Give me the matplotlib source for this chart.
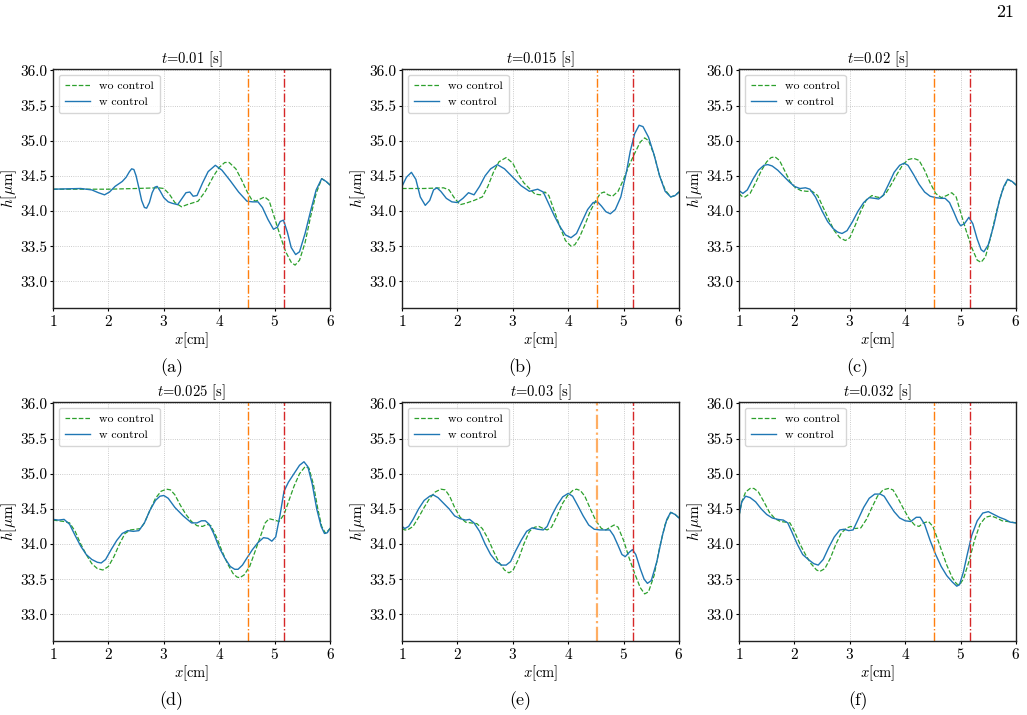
import numpy as np
import matplotlib
matplotlib.use("Agg")
import matplotlib.pyplot as plt

plt.rcParams["font.family"] = ["cmr10", "DejaVu Serif"]
plt.rcParams["mathtext.fontset"] = "cm"
plt.rcParams["axes.formatter.use_mathtext"] = True

# film thickness h [um] along x [cm]
times = ["0.01", "0.015", "0.02", "0.025", "0.03", "0.032"]
captions = ["(a)", "(b)", "(c)", "(d)", "(e)", "(f)"]

a_wo_x = [1.0, 1.5, 2.0, 2.5, 2.9, 3.0, 3.1, 3.2, 3.32, 3.42, 3.5, 3.62, 3.75, 3.9, 4.0, 4.1, 4.18, 4.3, 4.4, 4.5,
          4.58, 4.66, 4.74, 4.82, 4.9, 5.0, 5.1, 5.2, 5.3, 5.37, 5.45, 5.55, 5.65, 5.75, 5.85, 5.93, 6.0]
a_wo_h = [34.31, 34.31, 34.31, 34.32, 34.33, 34.32, 34.24, 34.12, 34.06, 34.09, 34.11, 34.14, 34.28, 34.50, 34.62,
          34.69, 34.69, 34.60, 34.45, 34.28, 34.17, 34.14, 34.17, 34.20, 34.15, 33.90, 33.65, 33.42, 33.27, 33.23,
          33.30, 33.55, 33.92, 34.25, 34.46, 34.42, 34.37]
a_w_x = [1.0, 1.5, 1.7, 1.82, 1.93, 2.02, 2.12, 2.25, 2.32, 2.38, 2.42, 2.46, 2.5, 2.55, 2.6, 2.65, 2.69, 2.74, 2.79,
         2.84, 2.88, 2.93, 3.0, 3.08, 3.15, 3.25, 3.33, 3.4, 3.47, 3.53, 3.6, 3.7, 3.8, 3.93, 4.05, 4.2, 4.35, 4.5,
         4.6, 4.7, 4.78, 4.88, 4.98, 5.05, 5.1, 5.16, 5.23, 5.3, 5.38, 5.45, 5.55, 5.65, 5.75, 5.85, 5.93, 6.0]
a_w_h = [34.31, 34.32, 34.30, 34.26, 34.23, 34.27, 34.35, 34.42, 34.48, 34.56, 34.60, 34.59, 34.50, 34.33, 34.15,
         34.05, 34.04, 34.12, 34.26, 34.34, 34.35, 34.29, 34.19, 34.13, 34.11, 34.09, 34.18, 34.26, 34.27, 34.21,
         34.22, 34.40, 34.56, 34.65, 34.58, 34.43, 34.27, 34.14, 34.13, 34.13, 34.05, 33.88, 33.74, 33.77, 33.85,
         33.87, 33.70, 33.48, 33.38, 33.42, 33.68, 34.00, 34.30, 34.46, 34.42, 34.37]

b_wo_x = [1.0, 1.4, 1.75, 1.85, 1.95, 2.05, 2.15, 2.3, 2.45, 2.55, 2.65, 2.75, 2.88, 3.0, 3.1, 3.2, 3.3, 3.4, 3.5,
          3.58, 3.65, 3.75, 3.85, 3.95, 4.05, 4.12, 4.2, 4.3, 4.4, 4.5, 4.58, 4.65, 4.72, 4.8, 4.9, 5.0, 5.1, 5.2,
          5.3, 5.38, 5.45, 5.55, 5.65, 5.75, 5.85, 5.93, 6.0]
b_wo_h = [34.32, 34.32, 34.33, 34.30, 34.18, 34.09, 34.11, 34.15, 34.20, 34.35, 34.55, 34.70, 34.76, 34.68, 34.52,
          34.40, 34.32, 34.24, 34.23, 34.27, 34.22, 34.00, 33.78, 33.58, 33.50, 33.52, 33.62, 33.80, 34.00, 34.15,
          34.25, 34.27, 34.23, 34.21, 34.28, 34.45, 34.65, 34.82, 34.98, 35.04, 35.00, 34.80, 34.50, 34.30, 34.20,
          34.22, 34.27]
b_w_x = [1.0, 1.08, 1.17, 1.25, 1.33, 1.42, 1.5, 1.57, 1.63, 1.7, 1.8, 1.9, 2.0, 2.1, 2.2, 2.3, 2.4, 2.5, 2.6, 2.72,
         2.85, 3.0, 3.15, 3.3, 3.45, 3.55, 3.65, 3.75, 3.85, 3.95, 4.05, 4.15, 4.25, 4.35, 4.45, 4.53, 4.6, 4.68,
         4.76, 4.85, 4.95, 5.05, 5.12, 5.2, 5.28, 5.35, 5.45, 5.55, 5.65, 5.75, 5.85, 5.93, 6.0]
b_w_h = [34.35, 34.48, 34.55, 34.45, 34.20, 34.08, 34.15, 34.30, 34.33, 34.28, 34.18, 34.13, 34.12, 34.18, 34.26,
         34.23, 34.35, 34.50, 34.60, 34.66, 34.60, 34.48, 34.36, 34.28, 34.31, 34.27, 34.10, 33.93, 33.78, 33.66,
         33.62, 33.68, 33.85, 34.02, 34.12, 34.13, 34.07, 33.99, 33.96, 34.02, 34.20, 34.55, 34.85, 35.10, 35.22,
         35.20, 35.05, 34.80, 34.50, 34.28, 34.20, 34.22, 34.27]

c_wo_x = [1.0, 1.05, 1.11, 1.2, 1.3, 1.4, 1.5, 1.58, 1.65, 1.73, 1.82, 1.92, 2.02, 2.12, 2.22, 2.32, 2.42, 2.52, 2.62,
          2.72, 2.82, 2.92, 3.0, 3.1, 3.2, 3.3, 3.4, 3.48, 3.55, 3.65, 3.75, 3.85, 3.95, 4.05, 4.15, 4.25, 4.35,
          4.45, 4.55, 4.65, 4.75, 4.84, 4.92, 5.0, 5.1, 5.2, 5.3, 5.37, 5.45, 5.55, 5.65, 5.75, 5.85, 5.93, 6.0]
c_wo_h = [34.25, 34.21, 34.20, 34.25, 34.40, 34.57, 34.70, 34.76, 34.77, 34.72, 34.58, 34.42, 34.33, 34.29, 34.28,
          34.28, 34.22, 34.05, 33.88, 33.72, 33.62, 33.58, 33.62, 33.80, 34.00, 34.16, 34.22, 34.20, 34.19, 34.25,
          34.38, 34.52, 34.65, 34.73, 34.75, 34.72, 34.58, 34.40, 34.25, 34.19, 34.22, 34.26, 34.20, 33.98, 33.72,
          33.48, 33.30, 33.27, 33.35, 33.65, 34.00, 34.28, 34.45, 34.42, 34.37]
c_w_x = [1.0, 1.07, 1.15, 1.25, 1.35, 1.45, 1.52, 1.6, 1.7, 1.8, 1.9, 2.0, 2.1, 2.2, 2.28, 2.38, 2.5, 2.6, 2.7, 2.78,
         2.86, 2.95, 3.05, 3.15, 3.25, 3.35, 3.45, 3.52, 3.6, 3.7, 3.8, 3.9, 3.98, 4.05, 4.15, 4.25, 4.35, 4.45,
         4.55, 4.65, 4.72, 4.8, 4.88, 4.95, 5.0, 5.07, 5.15, 5.22, 5.3, 5.37, 5.42, 5.5, 5.6, 5.7, 5.78, 5.85, 5.93,
         6.0]
c_w_h = [34.29, 34.25, 34.30, 34.45, 34.58, 34.65, 34.66, 34.64, 34.58, 34.50, 34.42, 34.35, 34.32, 34.33, 34.31,
         34.20, 34.00, 33.85, 33.75, 33.70, 33.68, 33.72, 33.85, 34.00, 34.12, 34.19, 34.18, 34.17, 34.22, 34.38,
         34.55, 34.65, 34.68, 34.65, 34.52, 34.38, 34.27, 34.21, 34.19, 34.18, 34.18, 34.12, 33.98, 33.85, 33.79,
         33.82, 33.91, 33.82, 33.60, 33.45, 33.42, 33.52, 33.80, 34.15, 34.35, 34.45, 34.42, 34.37]

d_wo_x = [1.0, 1.1, 1.2, 1.3, 1.4, 1.5, 1.6, 1.7, 1.8, 1.9, 2.0, 2.1, 2.2, 2.3, 2.4, 2.5, 2.58, 2.65, 2.75, 2.85,
          2.95, 3.05, 3.12, 3.2, 3.3, 3.4, 3.5, 3.6, 3.7, 3.78, 3.85, 3.95, 4.05, 4.15, 4.25, 4.32, 4.37, 4.45, 4.55,
          4.65, 4.75, 4.83, 4.9, 5.0, 5.08, 5.17, 5.25, 5.35, 5.45, 5.55, 5.62, 5.7, 5.78, 5.85, 5.92, 6.0]
d_wo_h = [34.34, 34.33, 34.32, 34.30, 34.18, 34.00, 33.85, 33.72, 33.65, 33.63, 33.68, 33.82, 34.00, 34.15, 34.20,
          34.21, 34.22, 34.30, 34.48, 34.65, 34.75, 34.78, 34.77, 34.70, 34.55, 34.42, 34.32, 34.26, 34.25, 34.28,
          34.26, 34.10, 33.90, 33.72, 33.58, 33.53, 33.52, 33.56, 33.68, 33.90, 34.12, 34.30, 34.36, 34.34, 34.32,
          34.42, 34.60, 34.82, 35.00, 35.10, 35.08, 34.85, 34.50, 34.25, 34.15, 34.22]
d_w_x = [1.0, 1.1, 1.2, 1.3, 1.4, 1.5, 1.6, 1.7, 1.8, 1.87, 1.95, 2.05, 2.15, 2.25, 2.35, 2.45, 2.55, 2.65, 2.75, 2.85,
         2.93, 3.0, 3.08, 3.2, 3.35, 3.5, 3.6, 3.68, 3.75, 3.82, 3.9, 4.0, 4.1, 4.2, 4.28, 4.34, 4.42, 4.5, 4.6, 4.7,
         4.8, 4.88, 4.95, 5.02, 5.1, 5.17, 5.25, 5.35, 5.45, 5.53, 5.6, 5.68, 5.76, 5.84, 5.9, 5.95, 6.0]
d_w_h = [34.35, 34.34, 34.35, 34.28, 34.12, 33.97, 33.85, 33.78, 33.74, 33.73, 33.78, 33.92, 34.05, 34.15, 34.19,
         34.18, 34.19, 34.30, 34.48, 34.62, 34.68, 34.69, 34.65, 34.52, 34.40, 34.30, 34.30, 34.33, 34.33, 34.28,
         34.15, 33.95, 33.80, 33.68, 33.64, 33.64, 33.70, 33.80, 33.92, 34.02, 34.09, 34.08, 34.04, 34.10, 34.42,
         34.75, 34.88, 35.00, 35.12, 35.17, 35.10, 34.85, 34.50, 34.25, 34.15, 34.16, 34.22]

e_wo_x = [1.0, 1.05, 1.1, 1.2, 1.3, 1.4, 1.5, 1.6, 1.7, 1.78, 1.86, 1.95, 2.05, 2.15, 2.25, 2.35, 2.45, 2.55, 2.65,
          2.75, 2.85, 2.93, 3.0, 3.1, 3.2, 3.3, 3.4, 3.47, 3.55, 3.62, 3.7, 3.8, 3.9, 4.0, 4.08, 4.15, 4.22, 4.3, 4.4,
          4.5, 4.6, 4.68, 4.76, 4.83, 4.9, 5.0, 5.1, 5.2, 5.3, 5.38, 5.45, 5.55, 5.65, 5.75, 5.85, 5.93, 6.0]
e_wo_h = [34.22, 34.20, 34.20, 34.25, 34.38, 34.52, 34.65, 34.74, 34.78, 34.77, 34.68, 34.52, 34.38, 34.31, 34.30,
          34.29, 34.22, 34.08, 33.90, 33.74, 33.63, 33.59, 33.62, 33.78, 34.00, 34.18, 34.24, 34.25, 34.22, 34.20,
          34.24, 34.40, 34.58, 34.70, 34.76, 34.78, 34.76, 34.68, 34.50, 34.33, 34.22, 34.20, 34.24, 34.27, 34.24,
          34.05, 33.80, 33.58, 33.38, 33.29, 33.32, 33.55, 33.95, 34.28, 34.45, 34.42, 34.37]
e_w_x = [1.0, 1.05, 1.12, 1.2, 1.3, 1.4, 1.5, 1.56, 1.65, 1.75, 1.85, 1.95, 2.05, 2.15, 2.22, 2.3, 2.4, 2.5, 2.6, 2.7,
         2.8, 2.88, 2.96, 3.05, 3.15, 3.25, 3.35, 3.45, 3.55, 3.62, 3.7, 3.8, 3.9, 4.0, 4.08, 4.17, 4.27, 4.37, 4.47,
         4.57, 4.67, 4.75, 4.82, 4.9, 4.97, 5.03, 5.1, 5.16, 5.22, 5.3, 5.37, 5.43, 5.5, 5.6, 5.7, 5.78, 5.85, 5.93,
         6.0]
e_w_h = [34.25, 34.22, 34.25, 34.35, 34.50, 34.62, 34.68, 34.70, 34.66, 34.58, 34.50, 34.40, 34.36, 34.34, 34.35,
         34.30, 34.18, 34.00, 33.85, 33.75, 33.70, 33.70, 33.75, 33.90, 34.05, 34.18, 34.23, 34.21, 34.20, 34.25,
         34.40, 34.55, 34.67, 34.72, 34.68, 34.55, 34.40, 34.27, 34.21, 34.20, 34.20, 34.20, 34.12, 33.98, 33.85,
         33.82, 33.88, 33.92, 33.85, 33.65, 33.50, 33.44, 33.48, 33.75, 34.12, 34.35, 34.45, 34.42, 34.37]

f_wo_x = [1.0, 1.05, 1.12, 1.2, 1.27, 1.35, 1.45, 1.55, 1.65, 1.75, 1.85, 1.92, 2.0, 2.1, 2.2, 2.3, 2.4, 2.46, 2.55,
          2.65, 2.75, 2.85, 2.95, 3.02, 3.1, 3.2, 3.3, 3.4, 3.5, 3.6, 3.7, 3.78, 3.87, 3.97, 4.07, 4.17, 4.25, 4.33,
          4.42, 4.5, 4.58, 4.66, 4.75, 4.85, 4.93, 4.98, 5.05, 5.15, 5.25, 5.35, 5.45, 5.55, 5.65, 5.75, 5.85, 6.0]
f_wo_h = [34.40, 34.60, 34.74, 34.79, 34.79, 34.74, 34.60, 34.45, 34.36, 34.32, 34.31, 34.30, 34.18, 34.00, 33.85,
          33.72, 33.63, 33.61, 33.65, 33.80, 34.00, 34.16, 34.23, 34.25, 34.22, 34.23, 34.35, 34.52, 34.68, 34.77,
          34.79, 34.77, 34.65, 34.50, 34.36, 34.27, 34.25, 34.30, 34.32, 34.25, 34.08, 33.90, 33.70, 33.52, 33.43,
          33.42, 33.50, 33.75, 34.05, 34.28, 34.38, 34.40, 34.37, 34.33, 34.32, 34.30]
f_w_x = [1.0, 1.05, 1.12, 1.2, 1.3, 1.4, 1.5, 1.6, 1.7, 1.8, 1.88, 1.95, 2.05, 2.15, 2.25, 2.35, 2.43, 2.52, 2.62, 2.72,
         2.82, 2.9, 2.98, 3.06, 3.15, 3.25, 3.35, 3.45, 3.55, 3.62, 3.7, 3.8, 3.9, 4.0, 4.1, 4.2, 4.27, 4.35, 4.45,
         4.55, 4.65, 4.75, 4.85, 4.93, 4.98, 5.05, 5.12, 5.2, 5.3, 5.4, 5.5, 5.6, 5.7, 5.8, 5.9, 6.0]
f_w_h = [34.40, 34.60, 34.68, 34.66, 34.60, 34.50, 34.42, 34.37, 34.35, 34.34, 34.30, 34.18, 34.00, 33.85, 33.78,
         33.72, 33.70, 33.78, 33.95, 34.10, 34.20, 34.21, 34.19, 34.20, 34.35, 34.52, 34.65, 34.71, 34.71, 34.68,
         34.58, 34.46, 34.37, 34.33, 34.32, 34.38, 34.38, 34.28, 34.05, 33.85, 33.68, 33.55, 33.46, 33.40, 33.42,
         33.60, 33.85, 34.12, 34.33, 34.44, 34.46, 34.42, 34.38, 34.35, 34.31, 34.30]

wo_series = [(a_wo_x, a_wo_h), (b_wo_x, b_wo_h), (c_wo_x, c_wo_h),
             (d_wo_x, d_wo_h), (e_wo_x, e_wo_h), (f_wo_x, f_wo_h)]
w_series = [(a_w_x, a_w_h), (b_w_x, b_w_h), (c_w_x, c_w_h),
            (d_w_x, d_w_h), (e_w_x, e_w_h), (f_w_x, f_w_h)]

# actuator / sensor positions
x_orange = 4.52
x_red = 5.17

W, H = 1027, 715
fig = plt.figure(figsize=(W / 100, H / 100), dpi=100)

lefts = [53, 402, 739]
tops = [69, 402]
aw, ah = 277, 239

for i in range(6):
    r, c = divmod(i, 3)
    l, t = lefts[c], tops[r]
    ax = fig.add_axes([l / W, 1 - (t + ah) / H, aw / W, ah / H])
    ax.grid(True, linestyle=":", color="#bbbbbb", linewidth=0.6)
    ax.set_axisbelow(True)
    ax.plot(*wo_series[i], "--", color="#2ca02c", linewidth=0.9, label="wo control")
    ax.plot(*w_series[i], "-", color="#1f77b4", linewidth=1.0, label="w control")
    if i == 4:
        ax.axvline(x_orange, color="#ff9a3c", linestyle="-.", linewidth=1.6, alpha=0.8)
    else:
        ax.axvline(x_orange, color="#ff7f0e", linestyle="-.", linewidth=1.0)
    ax.axvline(x_red, color="#d62728", linestyle="-.", linewidth=1.0)
    ax.set_xlim(1, 6)
    ax.set_ylim(32.62, 36.02)
    ax.set_xticks([1, 2, 3, 4, 5, 6])
    ax.set_yticks([33.0, 33.5, 34.0, 34.5, 35.0, 35.5, 36.0])
    ax.set_yticklabels(["33.0", "33.5", "34.0", "34.5", "35.0", "35.5", "36.0"])
    ax.tick_params(labelsize=11, length=2.5, width=0.8, pad=1.5)
    for s in ax.spines.values():
        s.set_linewidth(1.0)
        s.set_color("#222222")
    ax.set_title(r"$t$=" + times[i] + " [s]", fontsize=10.5, pad=3)
    ax.set_xlabel(r"$x$[cm]", fontsize=10.5, labelpad=1)
    ax.set_ylabel(r"$h[\mu$m]", fontsize=11, labelpad=1)
    ax.legend(loc="upper left", fontsize=8.5, handlelength=2.1, borderpad=0.5,
              framealpha=0.8, edgecolor="#cccccc")
    cx = (l - 40 + l + aw) / 2
    fig.text(cx / W, 1 - (t + ah + 60) / H, captions[i], ha="center", va="center", fontsize=13)

fig.text(1005 / W, 1 - 12 / H, "21", ha="center", va="center", fontsize=13)

fig.savefig("out.png", dpi=100)
